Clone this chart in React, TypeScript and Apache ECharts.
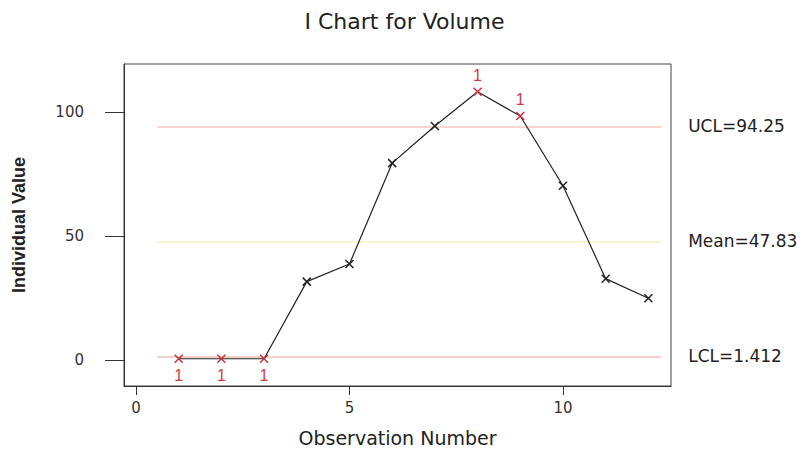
import React, { useEffect, useRef } from "react";
import * as echarts from "echarts";

const chartTitle = "I Chart for Volume";
const xAxisTitle = "Observation Number";
const yAxisTitle = "Individual Value";
const observations = [1, 2, 3, 4, 5, 6, 7, 8, 9, 10, 11, 12];
const volume = [0.5, 0.5, 0.5, 31.6, 38.7, 79.4, 94.4, 108.2, 98.4, 70.3, 32.8, 24.9];
const outOfControl = [true, true, true, false, false, false, false, true, true, false, false, false];
const testLabel = "1";
const xTicks = [0, 5, 10];
const yTicks = [0, 50, 100];
const controlNames = ["UCL=94.25", "Mean=47.83", "LCL=1.412"];
const controlValues = [94.25, 47.83, 1.412];
const controlColors = ["#f8d4d0", "#f6f7d2", "#f6cfcb"];

const xMark = "path://M0,0L10,10M10,0L0,10";

export default function App() {
  const ref = useRef<HTMLDivElement>(null);
  useEffect(() => {
    if (!ref.current) return;
    const chart = echarts.init(ref.current, null, { renderer: "svg" });
    const data = observations.map((x, i) => {
      const bad = outOfControl[i];
      return {
        value: [x, volume[i]],
        itemStyle: { color: bad ? "#c8323c" : "#222", borderColor: bad ? "#c8323c" : "#222" },
        label: {
          show: bad,
          position: volume[i] > 50 ? "top" : "bottom",
        },
      };
    });
    chart.setOption({
      animation: false,
      backgroundColor: "#fff",
      title: {
        text: chartTitle,
        left: "center",
        top: 5,
        textStyle: { fontFamily: "DejaVu Sans", fontSize: 22, fontWeight: "normal", color: "#222" },
      },
      grid: { left: 124, right: 138, top: 64, bottom: 68, show: true, borderColor: "#444", borderWidth: 1 },
      xAxis: {
        type: "value",
        min: -0.28,
        max: 12.53,
        name: xAxisTitle,
        nameLocation: "middle",
        nameGap: 42,
        nameTextStyle: { fontFamily: "DejaVu Sans", fontSize: 19, color: "#222" },
        axisLine: { show: true, onZero: false, lineStyle: { color: "#333" } },
        axisTick: { show: true, length: 9, customValues: xTicks, lineStyle: { color: "#333" } },
        axisLabel: { customValues: xTicks, margin: 14, fontFamily: "DejaVu Sans", fontSize: 15, color: "#333" },
        splitLine: { show: false },
      },
      yAxis: {
        type: "value",
        min: -10.5,
        max: 119.4,
        name: yAxisTitle,
        nameLocation: "middle",
        nameRotate: 90,
        nameGap: 96,
        nameTextStyle: { fontFamily: "Liberation Sans", fontSize: 18, fontWeight: "bold", color: "#222" },
        axisLine: { show: true, onZero: false, lineStyle: { color: "#333" } },
        axisTick: { show: true, length: 19, customValues: yTicks, lineStyle: { color: "#333" } },
        axisLabel: { customValues: yTicks, margin: 40, fontFamily: "DejaVu Sans", fontSize: 15, color: "#333" },
        splitLine: { show: false },
      },
      series: [
        {
          type: "line",
          data,
          symbol: xMark,
          symbolSize: 8,
          showAllSymbol: true,
          lineStyle: { color: "#222", width: 1.2 },
          itemStyle: { borderWidth: 1.5 },
          label: {
            show: false,
            formatter: testLabel,
            distance: 4,
            color: "#d23c46",
            fontSize: 16,
            fontFamily: "Liberation Sans",
          },
          z: 5,
          markLine: {
            silent: true,
            symbol: "none",
            z: 1,
            data: controlValues.map((v, i) => [
              {
                coord: [0.5, v],
                lineStyle: { color: controlColors[i], width: 2, type: "solid" },
                label: {
                  show: true,
                  position: "end",
                  formatter: controlNames[i],
                  distance: 27,
                  fontFamily: "DejaVu Sans",
                  fontSize: 17,
                  color: "#222",
                },
              },
              { coord: [12.3, v] },
            ]),
          },
        },
      ],
    });
    return () => chart.dispose();
  }, []);
  return <div ref={ref} style={{ position: "fixed", left: 0, top: 0, width: 809, height: 454 }} />;
}
